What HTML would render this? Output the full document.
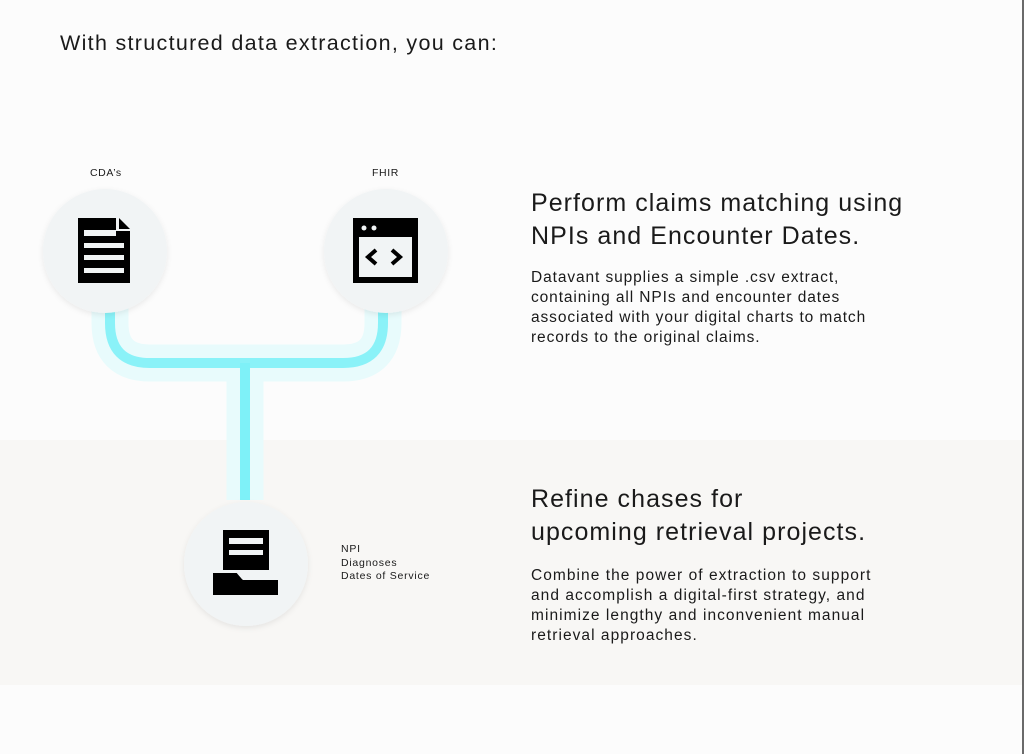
<!DOCTYPE html>
<html><head><meta charset="utf-8"><style>
html,body{margin:0;padding:0}
body{width:1024px;height:754px;position:relative;background:#fcfcfc;font-family:"Liberation Sans",sans-serif;color:#1a1a1a;overflow:hidden}
.band{position:absolute;left:0;top:440px;width:1022px;height:245px;background:#f8f7f5}
.edge{position:absolute;left:1022px;top:0;width:2px;height:754px;background:#6a6a6a}
.t{position:absolute;white-space:nowrap}
h2{position:absolute;margin:0;font-weight:normal;font-size:25px;line-height:33px;letter-spacing:1.05px;white-space:nowrap}
p{position:absolute;margin:0;font-size:15.5px;line-height:20px;letter-spacing:0.9px;white-space:nowrap}
svg{position:absolute;left:0;top:0}
</style></head><body>
<div class="band"></div>
<div class="edge"></div>
<div class="t" style="left:60px;top:31px;font-size:21.5px;letter-spacing:1.3px">With structured data extraction, you can:</div>
<svg width="1024" height="754">
<defs><filter id="sh" x="-30%" y="-30%" width="160%" height="160%"><feDropShadow dx="0" dy="2" stdDeviation="3" flood-color="#000" flood-opacity="0.08"/></filter></defs>
<g fill="none" stroke-linecap="butt">
<path d="M110 300 L110 323 Q110 363 150 363 L343 363 Q383 363 383 323 L383 300" stroke="#e8fbfc" stroke-width="37"/>
<path d="M245 363 L245 500" stroke="#e8fbfc" stroke-width="37"/>
<path d="M110 300 L110 323 Q110 363 150 363 L343 363 Q383 363 383 323 L383 300" stroke="#8af2f8" stroke-width="10"/>
<path d="M245 363 L245 500" stroke="#7ef1f8" stroke-width="10"/>
</g>
<circle cx="105" cy="251" r="62" fill="#f1f4f5" filter="url(#sh)"/>
<circle cx="386" cy="251" r="62" fill="#f1f4f5" filter="url(#sh)"/>
<circle cx="246" cy="564" r="62" fill="#f1f4f5" filter="url(#sh)"/>
<path d="M78 218 L116 218 L116 231 L130 231 L130 283 L78 283 Z" fill="#000"/>
<path d="M119 218 L130 229 L119 229 Z" fill="#000"/>
<g fill="#f1f4f5"><rect x="84" y="230" width="32" height="6"/><rect x="84" y="243" width="40" height="5"/><rect x="84" y="255" width="40" height="5"/><rect x="84" y="268" width="40" height="5"/></g>
<rect x="353" y="218" width="65" height="65" fill="#000"/>
<rect x="359" y="237" width="53" height="40" fill="#f1f4f5"/>
<circle cx="364" cy="228" r="2.5" fill="#f1f4f5"/><circle cx="374" cy="228" r="2.5" fill="#f1f4f5"/>
<path d="M376 250 L368 257 L376 264" stroke="#000" stroke-width="4" fill="none"/>
<path d="M392 250 L400 257 L392 264" stroke="#000" stroke-width="4" fill="none"/>
<rect x="223" y="530" width="46" height="40" fill="#000"/>
<rect x="229" y="538" width="34" height="6" fill="#f1f4f5"/><rect x="229" y="550" width="34" height="5" fill="#f1f4f5"/>
<path d="M213 573 L237 573 L243 580 L278 580 L278 595 L213 595 Z" fill="#000"/>
<path d="M237 571 L243 578 L270 578" stroke="#f1f4f5" stroke-width="3" fill="none"/>
</svg>
<div class="t" style="left:90px;top:167px;font-size:10.5px;letter-spacing:0.6px">CDA’s</div>
<div class="t" style="left:372px;top:167px;font-size:10.5px;letter-spacing:0.6px">FHIR</div>
<div class="t" style="left:341px;top:543px;font-size:10.5px;line-height:13.5px;letter-spacing:0.75px">NPI<br>Diagnoses<br>Dates of Service</div>
<h2 style="left:531px;top:187px">Perform claims matching using<br>NPIs and Encounter Dates.</h2>
<p style="left:531px;top:268px">Datavant supplies a simple .csv extract,<br>containing all NPIs and encounter dates<br>associated with your digital charts to match<br>records to the original claims.</p>
<h2 style="left:531px;top:483px">Refine chases for<br>upcoming retrieval projects.</h2>
<p style="left:531px;top:566px;letter-spacing:1.05px">Combine the power of extraction to support<br>and accomplish a digital-first strategy, and<br>minimize lengthy and inconvenient manual<br>retrieval approaches.</p>
</body></html>
